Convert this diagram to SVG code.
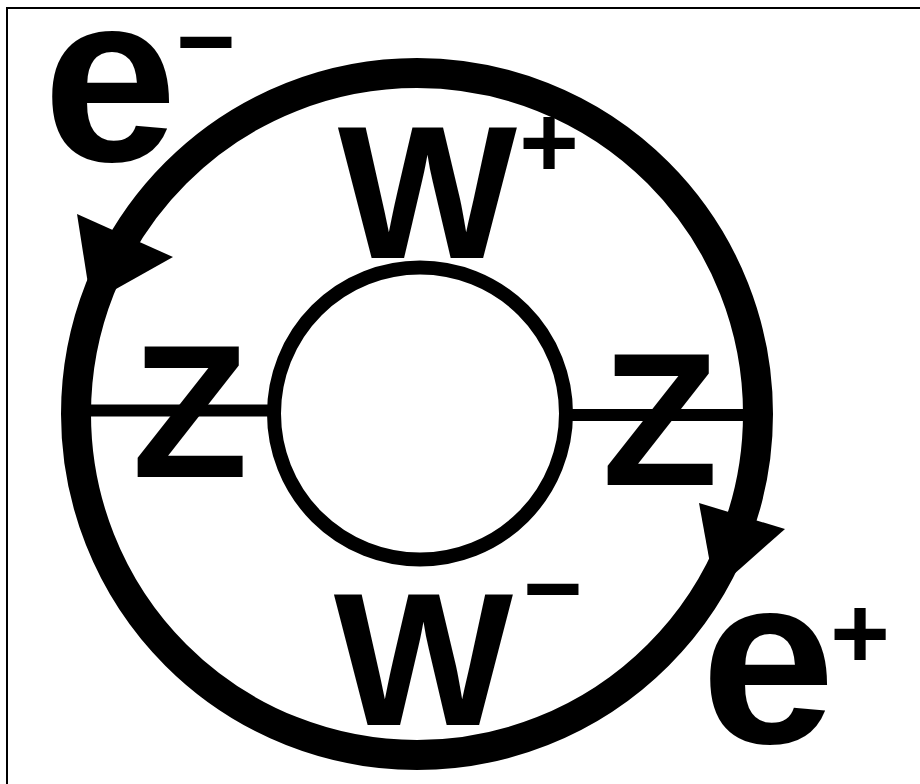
<svg xmlns="http://www.w3.org/2000/svg" width="920" height="784" viewBox="0 0 920 784">
  <style>
    .big { font-family: "Liberation Sans", Arial, Helvetica, sans-serif; font-weight: bold; fill: #000; text-anchor: middle; }
    .L { font-size: 190px; }
    .E { font-size: 242px; }
    .S { font-size: 102px; }
    .ring { fill: none; stroke: #000; }
  </style>
  <rect width="920" height="784" fill="#fff"/>
  <g id="frame" fill="none" stroke="#000" stroke-width="2">
    <path d="M7,784 V8 H920"/>
  </g>
  <g id="connectors">
    <line x1="80" y1="410.5" x2="275" y2="410.5" stroke="#000" stroke-width="12"/>
    <line x1="565" y1="415" x2="755" y2="415" stroke="#000" stroke-width="12"/>
  </g>
  <g id="outer-loop">
    <circle class="ring" cx="417" cy="414" r="341" stroke-width="30"/>
    <polygon points="77,214 173,257 91,303" fill="#000"/>
    <polygon points="699,503 785,529 715,591" fill="#000"/>
  </g>
  <g id="inner-loop">
    <circle class="ring" cx="420" cy="413.5" r="146" stroke-width="14"/>
  </g>
  <g id="label-e-minus">
    <text class="big E" x="110" y="161">e</text>
    <text class="big S" x="206" y="76">−</text>
  </g>
  <g id="label-w-plus">
    <text class="big L" x="427.5" y="258">W</text>
    <text class="big S" x="549" y="177">+</text>
  </g>
  <g id="label-z-left">
    <text class="big L" x="190" y="477">Z</text>
  </g>
  <g id="label-z-right">
    <text class="big L" x="660" y="485">Z</text>
  </g>
  <g id="label-w-minus">
    <text class="big L" x="423.5" y="725">W</text>
    <text class="big S" x="553" y="623">−</text>
  </g>
  <g id="label-e-plus">
    <text class="big E" x="768" y="743">e</text>
    <text class="big S" x="860" y="668">+</text>
  </g>
</svg>
